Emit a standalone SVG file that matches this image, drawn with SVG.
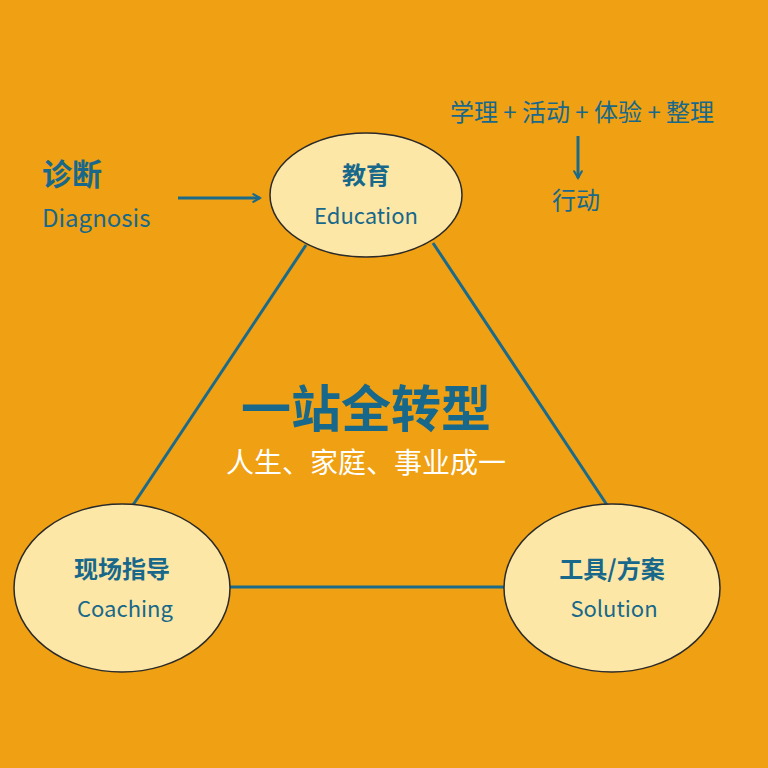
<svg xmlns="http://www.w3.org/2000/svg" width="768" height="768" viewBox="0 0 768 768">
<style>
.t{font-family:"Noto Sans CJK SC","Liberation Sans",sans-serif;fill:#17688a}
.b{font-weight:bold}
.n{fill:#fde7a6;stroke:#2a2a2a;stroke-width:1.5}
.c{stroke:#1c6a8a;stroke-width:3;fill:none}
</style>
<defs><marker id="a" viewBox="0 0 10 10" refX="8" refY="5" markerWidth="3.2" markerHeight="3.2" orient="auto"><path d="M1,1 L8,5 L1,9" fill="none" stroke="#1c6a8a" stroke-width="2.2" stroke-linecap="round"/></marker></defs>
<rect width="768" height="768" fill="#efa013"/>
<g id="connectors">
<line class="c" x1="306" y1="245" x2="133" y2="505"/>
<line class="c" x1="433" y1="243" x2="607" y2="505"/>
<line class="c" x1="229" y1="587" x2="504" y2="587"/>
<line class="c" x1="178" y1="198" x2="260" y2="198" stroke-width="5" marker-end="url(#a)"/>
<line class="c" x1="578" y1="136" x2="578" y2="178" stroke-width="5" marker-end="url(#a)"/>
</g>
<g id="edu"><ellipse class="n" cx="366" cy="195" rx="96" ry="62"/>
<text class="t b" x="366" y="184" font-size="24" text-anchor="middle">教育</text>
<text class="t" x="366" y="224" font-size="22" text-anchor="middle">Education</text></g>
<g id="coach"><ellipse class="n" cx="122" cy="588" rx="108" ry="84"/>
<text class="t b" x="122" y="578" font-size="24" text-anchor="middle">现场指导</text>
<text class="t" x="125" y="617" font-size="22" text-anchor="middle">Coaching</text></g>
<g id="sol"><ellipse class="n" cx="612" cy="588" rx="108" ry="84"/>
<text class="t b" x="612" y="578" font-size="24" text-anchor="middle">工具/方案</text>
<text class="t" x="614" y="617" font-size="22" text-anchor="middle">Solution</text></g>
<g id="diag"><text class="t b" x="42" y="185" font-size="30">诊断</text>
<text class="t" x="42" y="227" font-size="24">Diagnosis</text></g>
<g id="steps"><text class="t" x="582" y="121" font-size="24" text-anchor="middle">学理 + 活动 + 体验 + 整理</text>
<text class="t" x="576" y="209" font-size="24" text-anchor="middle">行动</text></g>
<g id="center"><text class="t b" x="366" y="427" font-size="50" text-anchor="middle">一站全转型</text>
<text x="366" y="473" font-size="28" text-anchor="middle" fill="#fff" font-family="Noto Sans CJK SC,sans-serif">人生、家庭、事业成一</text></g>
</svg>
